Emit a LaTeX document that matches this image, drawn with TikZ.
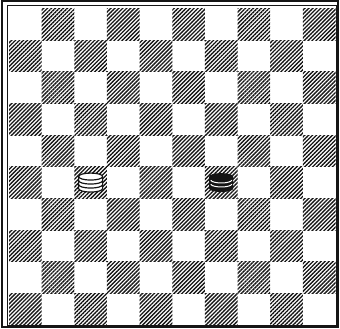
\documentclass[tikz,border=0pt]{standalone}
\usetikzlibrary{patterns.meta}
\definecolor{Ink}{HTML}{151515}
\definecolor{Paper}{HTML}{FFFFFF}
\tikzset{
  darksq/.style={
    pattern={Lines[angle=45,distance=2.8pt,line width=1.35pt]},
    pattern color=Ink
  },
  frameout/.style={draw=Ink,line width=2pt},
  framein/.style={draw=Ink,line width=0.9pt},
  whitestack/.pic={
    \draw[Ink,line width=1.2pt,fill=Paper]
      (-12,6) -- (-12,-6) arc[start angle=180,end angle=360,x radius=12,y radius=3.5]
      -- (12,6) arc[start angle=0,end angle=180,x radius=12,y radius=3.5] -- cycle;
    \foreach \h in {6,2,-2}
      \draw[Ink,line width=1.2pt] (-12,\h) arc[start angle=180,end angle=360,x radius=12,y radius=3.5];
  },
  blackstack/.pic={
    \fill[Ink]
      (-12,6) -- (-12,-6) arc[start angle=180,end angle=360,x radius=12,y radius=3.5]
      -- (12,6) arc[start angle=0,end angle=180,x radius=12,y radius=3.5] -- cycle;
    \foreach \h in {2,-2}
      \draw[Paper,line width=1pt] (-10.5,\h+0.3) arc[start angle=190,end angle=350,x radius=10.7,y radius=3.3];
  }
}
\begin{document}
\begin{tikzpicture}[x=1pt,y=1pt]
  \useasboundingbox (0,0) rectangle (340,-329);
  \def\sqw{32.65}
  \def\sqh{31.65}
  % squares
  \foreach \r in {0,...,9}
    \foreach \c in {0,...,9}{
      \ifodd\numexpr\r+\c\relax
        \fill[darksq] (9+\c*\sqw,-8.5-\r*\sqh) rectangle ++(\sqw,-\sqh);
      \fi
    }
  % frame
  \draw[framein] (7,-5.5) rectangle (336,-325);
  \draw[frameout] (2,-1.5) rectangle (338,-327);
  % pieces
  \pic at (9+2.5*\sqw,-8.5-5.5*\sqh) {whitestack};
  \pic at (9+6.5*\sqw,-8.5-5.5*\sqh) {blackstack};
\end{tikzpicture}
\end{document}
